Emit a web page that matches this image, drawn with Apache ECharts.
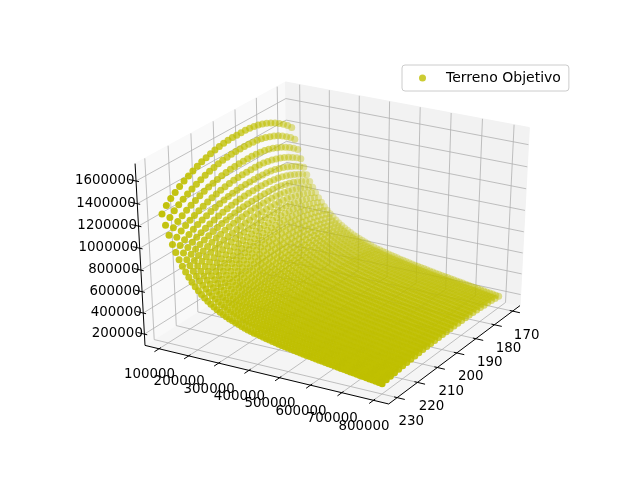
<!DOCTYPE html>
<html>
<head>
<meta charset="utf-8">
<script src="https://cdn.jsdelivr.net/npm/echarts@6/dist/echarts.min.js"></script>
<style>
  html, body { margin: 0; padding: 0; background: #fff; }
  #main { width: 640px; height: 480px; }
</style>
</head>
<body>
<div id="main"></div>
<script>
// grid of the surface: x values, peak height at each x, y values, relative shape along y
var xVals = [
  100000, 110000, 120000, 130000, 140000, 150000, 160000, 170000, 180000, 190000,
  200000, 210000, 220000, 230000, 240000, 250000, 260000, 270000, 280000, 290000,
  300000, 310000, 320000, 330000, 340000, 350000, 360000, 370000, 380000, 390000,
  400000, 410000, 420000, 430000, 440000, 450000, 460000, 470000, 480000, 490000,
  500000, 510000, 520000, 530000, 540000, 550000, 560000, 570000, 580000, 590000,
  600000, 610000, 620000, 630000, 640000, 650000, 660000, 670000, 680000, 690000,
  700000, 710000, 720000, 730000, 740000, 750000, 760000, 770000, 780000, 790000, 800000
];
var xProfile = [
  1610000, 1490000, 1385000, 1290000, 1205000, 1130000, 1063000, 1005000, 952000, 904000,
  860000, 821000, 786000, 754000, 724000, 697000, 672000, 649000, 628000, 609000,
  591000, 575000, 560000, 546000, 533000, 520000, 508000, 496000, 485000, 474000,
  469000, 460000, 452000, 443000, 436000, 428000, 421000, 413000, 407000, 400000,
  394000, 387000, 381000, 375000, 369000, 364000, 358000, 353000, 347000, 342000,
  336000, 331000, 326000, 321000, 316000, 311000, 306000, 301000, 296000, 291000,
  286000, 281000, 276000, 271000, 266000, 261000, 256000, 251000, 246000, 241000, 236000
];
var yVals = [
  170, 172, 174, 176, 178, 180, 182, 184, 186, 188, 190, 192, 194, 196, 198, 200,
  202, 204, 206, 208, 210, 212, 214, 216, 218, 220, 222, 224, 226, 228, 230
];
var yShape = [
  0.87, 0.895, 0.915, 0.933, 0.949, 0.962, 0.973, 0.983, 0.99, 0.995, 0.998, 1.0, 1.0, 1.0, 1.0, 0.998,
  0.995, 0.991, 0.985, 0.978, 0.97, 0.961, 0.95, 0.938, 0.924, 0.91, 0.894, 0.876, 0.856, 0.832, 0.80
];

var xTicks = [100000, 200000, 300000, 400000, 500000, 600000, 700000, 800000];
var yTicks = [170, 180, 190, 200, 210, 220, 230];
var zTicks = [200000, 400000, 600000, 800000, 1000000, 1200000, 1400000, 1600000];

// axis limits of the 3d box (y runs from front 234 to back 166)
var xLim = [52300, 847700];
var yLim = [234.1, 165.9];
var zLim = [92000, 1752000];

var SERIES = 'Terreno Objetivo';
var DOT = '#bfbf00';
var FONT = 'DejaVu Sans';

// view like matplotlib default: elev 30, azim -60, dist 10
var elev = 30 * Math.PI / 180, azim = -60 * Math.PI / 180, dist = 10;
var nV = [Math.cos(elev) * Math.cos(azim), Math.cos(elev) * Math.sin(azim), Math.sin(elev)];
var uV = [-nV[1], nV[0], 0];
var ul = Math.sqrt(uV[0] * uV[0] + uV[1] * uV[1]);
uV = [uV[0] / ul, uV[1] / ul, 0];
var vV = [
  nV[1] * uV[2] - nV[2] * uV[1],
  nV[2] * uV[0] - nV[0] * uV[2],
  nV[0] * uV[1] - nV[1] * uV[0]
];

function dot(a, b) { return a[0] * b[0] + a[1] * b[1] + a[2] * b[2]; }

// returns [X, Y, depth] on the projection plane
function project(x, y, z) {
  var q = [
    (x - xLim[0]) / (xLim[1] - xLim[0]) - 0.5,
    (y - yLim[0]) / (yLim[1] - yLim[0]) - 0.5,
    (z - zLim[0]) / (zLim[1] - zLim[0]) - 0.5
  ];
  var w = dist - dot(nV, q);
  return [dot(uV, q) / w, dot(vV, q) / w, w];
}

// build the point cloud
var pts = [];
for (var i = 0; i < xVals.length; i++) {
  for (var j = 0; j < yVals.length; j++) {
    pts.push(project(xVals[i], yVals[j], xProfile[i] * yShape[j]));
  }
}
var wMin = Infinity, wMax = -Infinity;
pts.forEach(function (p) { wMin = Math.min(wMin, p[2]); wMax = Math.max(wMax, p[2]); });
pts.sort(function (a, b) { return b[2] - a[2]; });
var scatterData = pts.map(function (p) {
  return { value: [p[0], p[1]], itemStyle: { opacity: 1 - 0.7 * (p[2] - wMin) / (wMax - wMin) } };
});

function renderBox(params, api) {
  var kids = [];
  var x0 = xLim[0], x1 = xLim[1], y0 = yLim[0], y1 = yLim[1], z0 = zLim[0], z1 = zLim[1];
  var dx = x1 - x0, dy = y1 - y0;
  function P(x, y, z) { var p = project(x, y, z); return api.coord([p[0], p[1]]); }
  function poly(list, fill) {
    kids.push({ type: 'polygon', shape: { points: list }, style: { fill: fill, stroke: fill, lineWidth: 1 } });
  }
  function seg(a, b, color, w) {
    kids.push({ type: 'line', shape: { x1: a[0], y1: a[1], x2: b[0], y2: b[1] }, style: { stroke: color, lineWidth: w } });
  }
  function label(pt, text, align) {
    kids.push({ type: 'text', style: {
      x: pt[0], y: pt[1], text: text, fill: '#000', fontSize: 13.4, fontFamily: FONT,
      align: align, verticalAlign: 'middle'
    } });
  }

  // panes
  poly([P(x0, y0, z0), P(x1, y0, z0), P(x1, y1, z0), P(x0, y1, z0)], '#f5f5f5');
  poly([P(x0, y0, z0), P(x0, y1, z0), P(x0, y1, z1), P(x0, y0, z1)], '#f9f9f9');
  poly([P(x0, y1, z0), P(x1, y1, z0), P(x1, y1, z1), P(x0, y1, z1)], '#f2f2f2');

  // grid lines
  var gc = '#b0b0b0';
  xTicks.forEach(function (t) {
    seg(P(t, y0, z0), P(t, y1, z0), gc, 0.8);
    seg(P(t, y1, z0), P(t, y1, z1), gc, 0.8);
  });
  yTicks.forEach(function (t) {
    seg(P(x0, t, z0), P(x1, t, z0), gc, 0.8);
    seg(P(x0, t, z0), P(x0, t, z1), gc, 0.8);
  });
  zTicks.forEach(function (t) {
    seg(P(x0, y0, t), P(x0, y1, t), gc, 0.8);
    seg(P(x0, y1, t), P(x1, y1, t), gc, 0.8);
  });

  // axis lines, ticks, labels
  seg(P(x0, y0, z0), P(x1, y0, z0), '#000', 1);
  seg(P(x1, y0, z0), P(x1, y1, z0), '#000', 1);
  seg(P(x0, y0, z0), P(x0, y0, z1), '#000', 1);
  xTicks.forEach(function (t) {
    seg(P(t, y0 + 0.012 * dy, z0), P(t, y0 - 0.03 * dy, z0), '#000', 1);
    var p = P(t, y0, z0);
    label([p[0] - 9.5, p[1] + 26], String(t), 'center');
  });
  yTicks.forEach(function (t) {
    seg(P(x1 - 0.012 * dx, t, z0), P(x1 + 0.03 * dx, t, z0), '#000', 1);
    var p = P(x1, t, z0);
    label([p[0] + 14, p[1] + 24], String(t), 'center');
  });
  zTicks.forEach(function (t) {
    seg(P(x0 + 0.012 * dx, y0, t), P(x0 - 0.03 * dx, y0, t), '#000', 1);
    var p = P(x0, y0, t);
    label([p[0] - 1.5, p[1] - 0.5], String(t), 'right');
  });

  return { type: 'group', children: kids };
}

var chart = echarts.init(document.getElementById('main'));
chart.setOption({
  animation: false,
  backgroundColor: '#fff',
  grid: { left: 54.1, right: 23.3, top: 29.9, bottom: 34.9 },
  xAxis: { type: 'value', min: -0.1, max: 0.1, show: false },
  yAxis: { type: 'value', min: -0.1, max: 0.1, show: false },
  legend: {
    data: [SERIES],
    left: 402, top: 65,
    padding: [6, 8, 6, 17],
    icon: 'circle', itemWidth: 7, itemHeight: 7,
    backgroundColor: 'rgba(255,255,255,0.8)',
    borderColor: '#cccccc', borderWidth: 1, borderRadius: 3,
    textStyle: { fontSize: 14, fontFamily: FONT, color: '#000', padding: [0, 0, 0, 15] }
  },
  series: [
    {
      type: 'custom', silent: true, clip: false, z: 1,
      renderItem: renderBox, data: [[0, 0]]
    },
    {
      name: SERIES, type: 'scatter', z: 2, silent: true,
      large: false, largeThreshold: 100000, progressive: 0,
      symbol: 'circle', symbolSize: 7,
      itemStyle: { color: DOT },
      data: scatterData
    }
  ]
});
</script>
</body>
</html>
